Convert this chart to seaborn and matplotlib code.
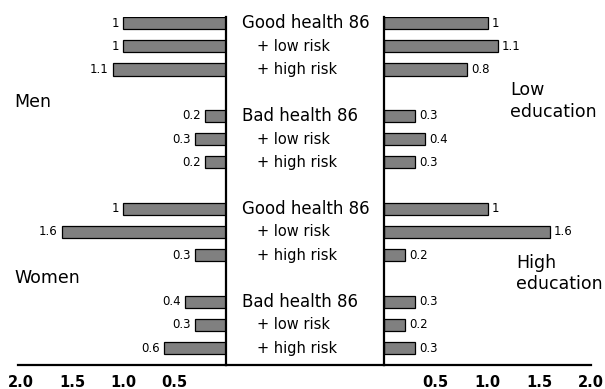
import pandas as pd
import seaborn as sns
import matplotlib.pyplot as plt

# Data
row_labels = ['Good health 86', '+ low risk', '+ high risk',
              'Bad health 86', '+ low risk', '+ high risk'] * 2
left_values = [1, 1, 1.1, 0.2, 0.3, 0.2, 1, 1.6, 0.3, 0.4, 0.3, 0.6]
right_values = [1, 1.1, 0.8, 0.3, 0.4, 0.3, 1, 1.6, 0.2, 0.3, 0.2, 0.3]
left_groups = ['Men', 'Women']
right_groups = ['Low\neducation', 'High\neducation']
left_ticks = [2.0, 1.5, 1.0, 0.5]
right_ticks = [0.5, 1.0, 1.5, 2.0]

# rows come in blocks of three with a blank row between blocks
pos = [(i // 3) * 4 + i % 3 for i in range(len(row_labels))]
df = pd.DataFrame({'pos': pos, 'label': row_labels,
                   'left': left_values, 'right': right_values})

sns.set_style('white')
plt.rcParams['font.family'] = ['DejaVu Sans']
plt.rcParams['text.color'] = 'black'
plt.rcParams['xtick.color'] = 'black'
plt.rcParams['xtick.labelcolor'] = 'black'

W, H = 605, 389
fig = plt.figure(figsize=(W / 100, H / 100), dpi=100)
bottom, height = 24 / H, 348 / H
ax_l = fig.add_axes([18 / W, bottom, 208 / W, height])
ax_m = fig.add_axes([226 / W, bottom, 158 / W, height], sharey=ax_l)
ax_r = fig.add_axes([384 / W, bottom, 207 / W, height], sharey=ax_l)

bar_kw = dict(orient='h', native_scale=True, width=0.52, color='#808080',
              saturation=1, edgecolor='black', linewidth=0.9, errorbar=None)
sns.barplot(data=df, x='left', y='pos', ax=ax_l, **bar_kw)
sns.barplot(data=df, x='right', y='pos', ax=ax_r, **bar_kw)

ax_l.set_xlim(2.026, 0)
ax_r.set_xlim(0, 2.0)
ax_l.set_ylim(14.73, -0.26)

for ax in (ax_l, ax_r):
    for c in ax.containers:
        ax.bar_label(c, fmt='{:g}', padding=3, fontsize=8.5, color='black')

spine_w = 1.6
for ax, keep in ((ax_l, ('right', 'bottom')), (ax_m, ('bottom',)),
                 (ax_r, ('left', 'bottom'))):
    for name, sp in ax.spines.items():
        sp.set_visible(name in keep)
        sp.set_linewidth(spine_w)
        sp.set_color('black')
    ax.set_xlabel('')
    ax.set_ylabel('')
    ax.tick_params(axis='y', left=False, labelleft=False)
    ax.set_facecolor('none')

ax_l.set_xticks(left_ticks, [f'{t:.1f}' for t in left_ticks])
ax_r.set_xticks(right_ticks, [f'{t:.1f}' for t in right_ticks])
for ax in (ax_l, ax_r):
    ax.tick_params(axis='x', direction='in', length=5, width=1.3, pad=7,
                   labelsize=10.5, colors='black')
    for t in ax.get_xticklabels():
        t.set_fontweight('bold')
ax_m.set_xticks([])
ax_m.set_xlim(0, 1)

# middle row labels
for p, lab in zip(df['pos'], df['label']):
    heading = not lab.startswith('+')
    ax_m.text(0.101 if heading else 0.196, p, lab,
              fontsize=12 if heading else 10.5, va='center', ha='left',
              color='black')

# group labels
for (x, y), lab in zip([(14, 106.7), (14, 283)], left_groups):
    fig.text(x / W, 1 - y / H, lab, fontsize=12.5, va='baseline')
for (x, y), lab in zip([(510, 116.7), (516, 289)], right_groups):
    fig.text(x / W, 1 - y / H, lab, fontsize=12.5, va='baseline',
             linespacing=1.23)

fig.savefig('out.png', dpi=100)
